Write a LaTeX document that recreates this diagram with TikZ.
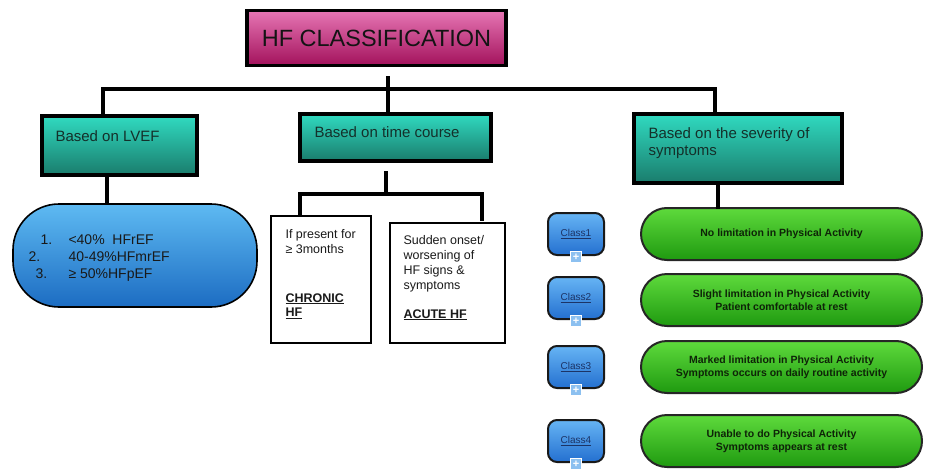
\documentclass[tikz,border=0pt]{standalone}
\usepackage{fontspec}
\setmainfont{Liberation Sans}
\usetikzlibrary{positioning, calc}

\definecolor{pinkTop}{HTML}{E676B4}
\definecolor{pinkBot}{HTML}{A3125C}
\definecolor{tealTop}{HTML}{30DAC0}
\definecolor{tealBot}{HTML}{1A7C6C}
\definecolor{tealText}{HTML}{14302A}
\definecolor{efTop}{HTML}{5EBAF2}
\definecolor{efBot}{HTML}{1C6CC2}
\definecolor{clsTop}{HTML}{66B4F4}
\definecolor{clsBot}{HTML}{2470D0}
\definecolor{clsText}{HTML}{1C3466}
\definecolor{badgeFill}{HTML}{8CC0F0}
\definecolor{grnTop}{HTML}{5EDA3C}
\definecolor{grnBot}{HTML}{1F9A10}
\definecolor{grnText}{HTML}{0E2408}
\definecolor{noteText}{HTML}{1A1A1A}

\begin{document}
\begin{tikzpicture}[
  x=1pt, y=-1pt,
  conn/.style={line width=3.8pt, line cap=rect},
  headbox/.style={draw, line width=3.5pt, top color=pinkTop, bottom color=pinkBot, minimum width=259pt, minimum height=55pt, text=black!92, font=\fontsize{23.5}{26}\selectfont},
  basebox/.style={draw, line width=3.8pt, top color=tealTop, bottom color=tealBot, inner sep=0pt},
  basetext/.style={anchor=base west, align=left, text=tealText, font=\fontsize{15}{17}\selectfont},
  efbox/.style={draw, line width=1.6pt, top color=efTop, bottom color=efBot, rounded corners=46pt, minimum width=244pt, minimum height=103pt},
  eftext/.style={anchor=base west, align=left, text=black!90, font=\fontsize{14}{17}\selectfont},
  notebox/.style={draw, line width=2.2pt, fill=white, inner sep=0pt},
  notetext/.style={anchor=base west, align=left, text=noteText, font=\fontsize{12.5}{15}\selectfont},
  classbox/.style={draw=black!90, line width=2pt, top color=clsTop, bottom color=clsBot, rounded corners=9pt, minimum width=56pt, minimum height=42pt, text=clsText, font=\fontsize{10}{12}\selectfont},
  badge/.style={fill=badgeFill, draw=white, line width=0.6pt, minimum size=11pt, inner sep=0pt, text=white, font=\bfseries\fontsize{11}{11}\selectfont},
  sympbox/.style={draw=black!85, line width=2pt, top color=grnTop, bottom color=grnBot, rounded corners=26pt, minimum width=281pt, minimum height=52pt, align=center, text=grnText, font=\bfseries\fontsize{10.5}{13}\selectfont}
]
\useasboundingbox (0,0) rectangle (927,471);

% TOP
\node[headbox] (title) at (376.5,38) {HF CLASSIFICATION};

% BASES (multi-line text: base = last line)
\node[basebox, minimum width=155pt, minimum height=59pt] (lvef) at (119.5,145.5) {};
\node[basetext] (lveftxt) at (52,141) {Based on LVEF};
\node[basebox, minimum width=191pt, minimum height=47pt] (time) at (395.5,137.5) {};
\node[basetext] (timetxt) at (311,137) {Based on time course};
\node[basebox, minimum width=208pt, minimum height=69pt] (sev) at (738,148.5) {};
\node[basetext] (sevtxt) at (645,155) {Based on the severity of\\symptoms};

\coordinate (tap) at (388,78);
\coordinate (busL) at (103,89);
\coordinate (busR) at (715,89);
\draw[conn] (tap) -- (tap |- busL) -- (time.north -| tap);
\draw[conn] (lvef.north -| busL) -- (busL) -- (busR) -- (sev.north -| busR);

% LVEF
\node[efbox] (ef) at (135,255.5) {};
\foreach \n/\xx/\yy in {1/37/244, 2/25/261, 3/32/278}
  \node[eftext] (num\n) at (\xx,\yy) {\n.};
\node[eftext] (eflist) at (65,278) {<40\%~~HFrEF\\40-49\%HFmrEF\\≥ 50\%HFpEF};
\draw[conn] ([xshift=-12.5pt]lvef.south) -- ([xshift=-12.5pt]lvef.south |- ef.north);

% TIME COURSE
\node[notebox, minimum width=100pt, minimum height=127pt] (chronic) at (321,279.5) {};
\node[notetext] (chrtxt) at (282,253) {If present for\\≥ 3months};
\node[notetext] (chrname) at (282,316.5) {\textbf{\underline{CHRONIC}}\\[-0.5pt]\textbf{\underline{HF}}};
\node[notebox, minimum width=115pt, minimum height=120pt] (acute) at (447.5,283) {};
\node[notetext] (acutxt) at (400,289) {Sudden onset/\\worsening of\\HF signs \&\\symptoms};
\node[notetext] (acuname) at (400,318) {\textbf{\underline{ACUTE HF}}};

\coordinate (tsplit) at (386,194);
\coordinate (tl) at (300,194);
\coordinate (tr) at (482,194);
\draw[conn] ([xshift=-9.5pt, yshift=-10pt]time.south) -- (tsplit);
\draw[conn] (chronic.north -| tl) -- (tl) -- (tr) -- ([yshift=3pt]acute.north -| tr);

% SEVERITY
\foreach \i/\y in {1/234, 2/298, 3/367, 4/441} {
  \node[classbox] (class\i) at (576,\y) {\underline{Class\i}};
  \node[badge] (badge\i) at ([yshift=-1pt]class\i.south) {+};
}
\foreach \i/\y/\txt in {1/234/{No limitation in Physical Activity},
    2/300/{Slight limitation in Physical Activity\\Patient comfortable at rest},
    3/367/{Marked limitation in Physical Activity\\Symptoms occurs on daily routine activity},
    4/441/{Unable to do Physical Activity\\Symptoms appears at rest}}
  \node[sympbox] (symp\i) at (781.5,\y) {\txt};

\draw[conn] ([xshift=-20pt]sev.south) -- ([xshift=-20pt]sev.south |- symp1.north);

\end{tikzpicture}
\end{document}
